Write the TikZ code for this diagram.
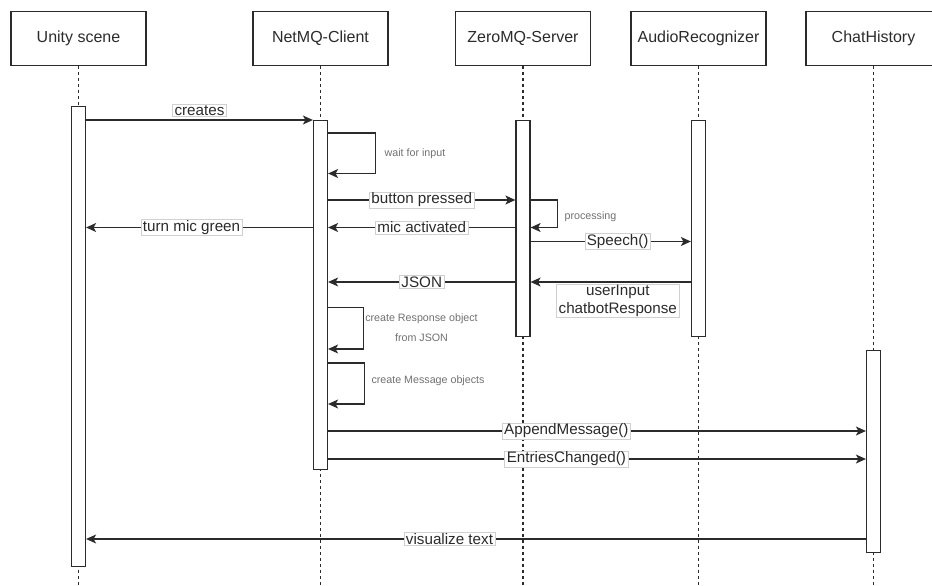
\documentclass[tikz,border=0pt]{standalone}
\usepackage{fontspec}
\setmainfont{Liberation Sans}
\usetikzlibrary{arrows.meta}
\definecolor{ink}{HTML}{2B2B2B}
\definecolor{notegray}{HTML}{707070}
\definecolor{lblline}{HTML}{D0D0D0}
\tikzset{
  actor/.style={draw=ink, line width=1.2pt, minimum width=135pt, minimum height=54pt,
    inner sep=0pt, text=ink, font=\fontsize{16}{19}\selectfont},
  bar/.style={draw=ink, fill=white, line width=1.2pt, minimum width=14pt, inner sep=0pt, anchor=north},
  life/.style={draw=ink, line width=1.1pt, dash pattern=on 3pt off 3pt},
  msg/.style={draw=ink, line width=1.2pt, -{Stealth[length=10pt,width=9pt,inset=2.5pt]}},
  lbl/.style={fill=white, draw=lblline, line width=0.6pt, text=ink, inner xsep=2pt,
    inner ysep=1pt, font=\fontsize{15.2}{17.5}\selectfont},
  notetext/.style={text=notegray, font=\fontsize{10.7}{20}\selectfont, align=center}
}
\begin{document}
\begin{tikzpicture}[x=1pt, y=-1pt]
      \useasboundingbox (0,0) rectangle (932,586);
      \node[actor] (unity) at (78.5,38.5) {Unity scene};
      \node[actor] (client) at (320.5,38.5) {NetMQ-Client};
      \node[actor] (server) at (523,38.5) {ZeroMQ-Server};
      \node[actor] (audio) at (698.5,38.5) {AudioRecognizer};
      \node[actor] (history) at (873.5,38.5) {ChatHistory};
      \begin{scope}[life]
        \draw (unity) -- (unity |- 0,586);
        \draw (client) -- (client |- 0,586);
        \draw (server) -- (server |- 0,586);
        \draw (audio) -- (audio |- 0,586);
        \draw (history) -- (history |- 0,586);
      \end{scope}
      \node[bar, minimum height=460pt] (unitybar) at (78.5,106) {};
      \node[bar, minimum height=349.5pt] (clientbar) at (320.5,119.5) {};
      \node[bar, minimum height=216.5pt] (serverbar) at (523,119.5) {};
      \node[bar, minimum height=216.5pt] (audiobar) at (698.5,119.5) {};
      \node[bar, minimum height=202.5pt] (historybar) at (873.5,349.5) {};
      \begin{scope}[msg]
        \draw (unitybar.east |- 0,120) -- node[lbl, above=3pt] (creates) {creates} (clientbar.west |- 0,120);
        \draw (clientbar.east |- 0,133) -- ++(47,0) |- (clientbar.east |- 0,173.5);
        \draw (clientbar.east |- 0,200) -- node[lbl] (pressed) {button pressed} (serverbar.west |- 0,200);
        \draw (serverbar.east |- 0,200) -- ++(27,0) |- (serverbar.east |- 0,227.5);
        \draw (serverbar.west |- 0,227.5) -- node[lbl] (activated) {mic activated} (clientbar.east |- 0,227.5);
        \draw (clientbar.west |- 0,227.5) -- node[lbl, pos=0.535] (green) {turn mic green} (unitybar.east |- 0,227.5);
        \draw (serverbar.east |- 0,241.5) -- node[lbl, pos=0.543] (speech) {Speech()} (audiobar.west |- 0,241.5);
        \draw (serverbar.west |- 0,282) -- node[lbl] (json) {JSON} (clientbar.east |- 0,282);
        \draw (audiobar.west |- 0,282) -- node[lbl, pos=0.456, below=2pt, align=center] (result) {userInput\\chatbotResponse} (serverbar.east |- 0,282);
        \draw (clientbar.east |- 0,307.5) -- ++(35,0) |- (clientbar.east |- 0,349);
        \draw (clientbar.east |- 0,363) -- ++(36,0) |- (clientbar.east |- 0,404);
        \draw (clientbar.east |- 0,431) -- node[lbl, pos=0.443] (append) {AppendMessage()} (historybar.west |- 0,431);
        \draw (clientbar.east |- 0,459) -- node[lbl, pos=0.443] (changed) {EntriesChanged()} (historybar.west |- 0,459);
        \draw (historybar.west |- 0,539) -- node[lbl, pos=0.534] (visualize) {visualize text} (unitybar.east |- 0,539);
      \end{scope}
      \node[notetext] (waitnote) at (415,154) {wait for input};
      \node[notetext] (procnote) at (590.5,216.5) {processing};
      \node[notetext] (respnote) at (421.5,327.5) {create Response object\\from JSON};
      \node[notetext] (msgnote) at (428,381) {create Message objects};
    \end{tikzpicture}
\end{document}
